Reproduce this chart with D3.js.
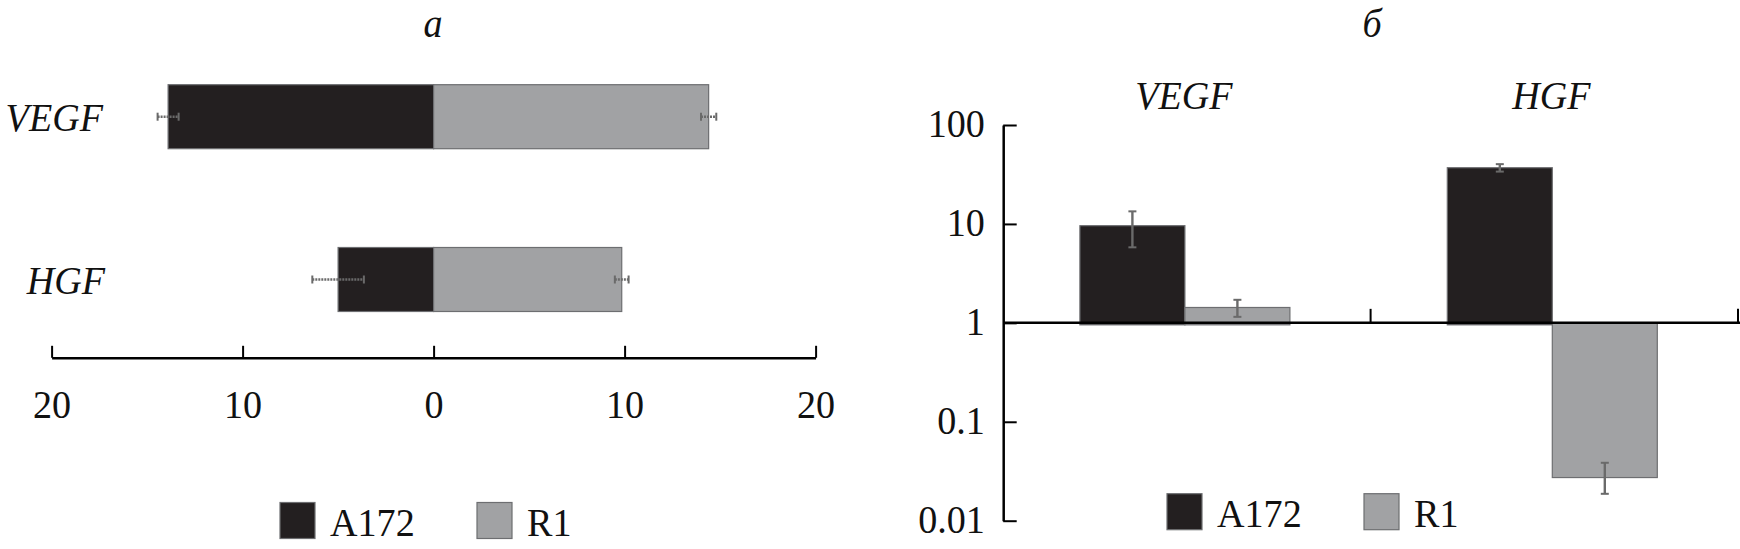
<!DOCTYPE html>
<html>
<head>
<meta charset="utf-8">
<script src="https://cdn.jsdelivr.net/npm/d3@7/dist/d3.min.js"></script>
<style>
  body { margin: 0; background: #fff; }
  svg { display: block; font-family: "Liberation Serif", "Times New Roman", serif; }
</style>
</head>
<body>
<svg id="chart" width="1740" height="549"></svg>
<script>
// ---- data ----
const genes = ["VEGF", "HGF"];
const series = ["A172", "R1"];
// panel a (linear, A172 to the left, R1 to the right)
const leftA172 = [13.9, 5.0];
const leftA172Err = [0.55, 1.35];
const leftR1 = [14.4, 9.85];
const leftR1Err = [0.4, 0.36];
const leftTicks = [-20, -10, 0, 10, 20];
// panel б (log scale)
const rightA172 = [9.6, 37];
const rightA172Err = [3.8, 3.2];
const rightR1 = [1.43, 0.0286];
const rightR1Err = [0.28, 0.0099];
const rightTicks = [0.01, 0.1, 1, 10, 100];
const panelTitles = ["а", "б"];

const colors = { A172: "#231f20", R1: "#a1a2a4" };
const barStroke = "#6d6e71";
const errColor = "#6a6a6a";
const FS = 41, SX = 0.93;   // font size and horizontal condensation

const svg = d3.select("#chart");

function label(g, x, y, txt, opts) {
  opts = opts || {};
  return g.append("text")
    .attr("transform", `translate(${x},${y}) scale(${SX},1)`)
    .attr("dy", opts.dy || null)
    .attr("text-anchor", opts.anchor || "start")
    .attr("font-size", FS)
    .attr("font-style", opts.italic ? "italic" : null)
    .attr("fill", "#111")
    .text(txt);
}

// ================= panel a =================
const gA = svg.append("g");
const xL = d3.scaleLinear().domain([-20, 20]).range([51.6, 815.6]);
const yL = d3.scalePoint().domain(genes).range([116.7, 279.5]);
const barH = 64;

label(gA, 433, 24.5, panelTitles[0], { dy: "0.3em", anchor: "middle", italic: true });

const axL = d3.axisBottom(xL).tickValues(leftTicks).tickSizeInner(-12).tickSizeOuter(0)
  .tickPadding(30.8).tickFormat(d => Math.abs(d));
const axLg = gA.append("g").attr("transform", "translate(0,357.8)").call(axL);
axLg.select(".domain").attr("stroke", "#000").attr("stroke-width", 2.5);
axLg.selectAll(".tick line").attr("stroke", "#000").attr("stroke-width", 2);
axLg.selectAll(".tick text").attr("font-size", FS).attr("fill", "#111")
  .attr("font-family", "Liberation Serif").attr("transform", `scale(${SX},1)`);

const leftData = genes.map((g, i) => ({
  gene: g, a: leftA172[i], ae: leftA172Err[i], r: leftR1[i], re: leftR1Err[i]
}));

gA.selectAll("rect.a").data(leftData).join("rect").attr("class", "a")
  .attr("x", d => xL(-d.a)).attr("width", d => xL(0) - xL(-d.a))
  .attr("y", d => yL(d.gene) - barH / 2).attr("height", barH)
  .attr("fill", colors.A172).attr("stroke", barStroke).attr("stroke-width", 1.2);
gA.selectAll("rect.r").data(leftData).join("rect").attr("class", "r")
  .attr("x", xL(0)).attr("width", d => xL(d.r) - xL(0))
  .attr("y", d => yL(d.gene) - barH / 2).attr("height", barH)
  .attr("fill", colors.R1).attr("stroke", barStroke).attr("stroke-width", 1.2);

function hErr(g, cx0, cx1, cy) {
  g.append("line").attr("x1", cx0).attr("x2", cx1).attr("y1", cy).attr("y2", cy)
    .attr("stroke", errColor).attr("stroke-width", 2.4).attr("stroke-dasharray", "2,1");
  [cx0, cx1].forEach(x => g.append("line").attr("x1", x).attr("x2", x)
    .attr("y1", cy - 4).attr("y2", cy + 4).attr("stroke", errColor).attr("stroke-width", 2));
}
leftData.forEach(d => {
  const cy = yL(d.gene);
  hErr(gA, xL(-d.a - d.ae), xL(-d.a + d.ae), cy);
  hErr(gA, xL(d.r - d.re), xL(d.r + d.re), cy);
});

const labelRight = { VEGF: 103, HGF: 105 };
genes.forEach(g => label(gA, labelRight[g], yL(g), g, { dy: "0.35em", anchor: "end", italic: true }));

function legend(g, x0, x1, yTop, base) {
  const items = [{ s: series[0], x: x0 }, { s: series[1], x: x1 }];
  items.forEach(it => {
    g.append("rect").attr("x", it.x).attr("y", yTop).attr("width", 35).attr("height", 36)
      .attr("fill", colors[it.s]).attr("stroke", barStroke).attr("stroke-width", 1.2);
    label(g, it.x + 50, base, it.s);
  });
}
legend(gA, 280, 477, 502.5, 535.5);

// ================= panel б =================
const gB = svg.append("g");
label(gB, 1372, 24.5, panelTitles[1], { dy: "0.3em", anchor: "middle", italic: true });

const yR = d3.scaleLog().domain([0.01, 100]).range([520.7, 125]);
const xR = d3.scaleBand().domain(genes).range([1003.2, 1738]).paddingInner(0).paddingOuter(0);
const bw = xR.bandwidth();
const x1 = d3.scaleBand().domain(series).range([bw / 2 - 107, bw / 2 + 103]);

const axR = d3.axisLeft(yR).tickValues(rightTicks).tickSizeInner(-13.5).tickSizeOuter(0)
  .tickPadding(18.3 / SX).tickFormat(d => String(d));
const axRg = gB.append("g").attr("transform", "translate(1003.2,0)").call(axR);
axRg.select(".domain").attr("stroke", "#000").attr("stroke-width", 2.5);
axRg.selectAll(".tick line").attr("stroke", "#000").attr("stroke-width", 2);
axRg.selectAll(".tick text").attr("font-size", FS).attr("fill", "#111")
  .attr("font-family", "Liberation Serif").attr("dy", "0.29em")
  .attr("transform", `scale(${SX},1)`);

const rightData = [];
genes.forEach((g, i) => {
  rightData.push({ gene: g, s: "A172", v: rightA172[i], e: rightA172Err[i] });
  rightData.push({ gene: g, s: "R1", v: rightR1[i], e: rightR1Err[i] });
});

gB.selectAll("rect.b").data(rightData).join("rect").attr("class", "b")
  .attr("x", d => xR(d.gene) + x1(d.s)).attr("width", x1.bandwidth())
  .attr("y", d => Math.min(yR(d.v), yR(1)))
  .attr("height", d => Math.abs(yR(d.v) - yR(1)) + 2)
  .attr("fill", d => colors[d.s]).attr("stroke", barStroke).attr("stroke-width", 1.2);

// x axis at value 1
const y1 = yR(1);
gB.append("line").attr("x1", 1003.2).attr("x2", 1740).attr("y1", y1).attr("y2", y1)
  .attr("stroke", "#000").attr("stroke-width", 2.5);
gB.selectAll("line.xt").data(genes).join("line").attr("class", "xt")
  .attr("x1", d => xR(d) + bw).attr("x2", d => xR(d) + bw)
  .attr("y1", y1).attr("y2", y1 - 14).attr("stroke", "#000").attr("stroke-width", 2);

rightData.forEach(d => {
  const cx = xR(d.gene) + x1(d.s) + x1.bandwidth() / 2;
  const yt = yR(d.v + d.e), yb = yR(d.v - d.e);
  gB.append("line").attr("x1", cx).attr("x2", cx).attr("y1", yt).attr("y2", yb)
    .attr("stroke", errColor).attr("stroke-width", 2.4);
  [yt, yb].forEach(y => gB.append("line").attr("x1", cx - 4).attr("x2", cx + 4)
    .attr("y1", y).attr("y2", y).attr("stroke", errColor).attr("stroke-width", 2));
});

genes.forEach(g => label(gB, xR(g) + bw / 2 - 3, 94.5, g, { dy: "0.35em", anchor: "middle", italic: true }));

legend(gB, 1167, 1364, 493.7, 527);
</script>
</body>
</html>
